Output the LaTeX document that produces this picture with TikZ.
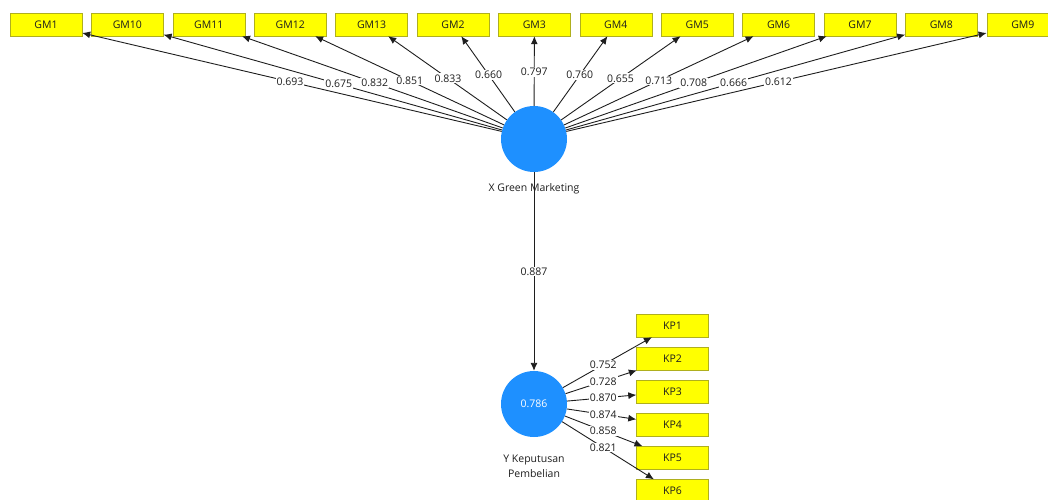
\documentclass[tikz,border=0pt]{standalone}
\usepackage{fontspec}
\setmainfont{Open Sans}
\usetikzlibrary{arrows.meta}
\definecolor{boxfill}{RGB}{255,255,0}
\definecolor{boxline}{RGB}{175,175,30}
\definecolor{latent}{RGB}{30,144,255}
\definecolor{ink}{RGB}{30,30,30}
\tikzset{
  indicator/.style={draw=boxline, fill=boxfill, minimum width=72pt, minimum height=23pt,
    inner sep=0pt, font=\fontsize{10.5}{12}\selectfont, text=ink},
  construct/.style={circle, fill=latent, minimum size=66pt, inner sep=0pt},
  loading/.style={draw=ink, line width=0.9pt, -{Latex[length=8pt,width=7pt]}},
  lbl/.style={fill=white, inner sep=1pt, font=\fontsize{10.5}{12}\selectfont, text=ink},
  caption/.style={font=\fontsize{10.5}{15}\selectfont, text=ink, align=center},
}
\begin{document}
\begin{tikzpicture}[x=1pt,y=-1pt]
\useasboundingbox (0,0) rectangle (1048,499);

% latent variables
\node[construct] (X) at (534,139) {};
\node[construct, text=white, font=\fontsize{10.5}{12}\selectfont] (Y) at (534,404) {0.786};

% indicators of X
\foreach \n [count=\i from 0] in {1,10,11,12,13,2,3,4,5,6,7,8,9}
  \node[indicator] (GM\n) at ({46+81.4*\i},24.5) {GM\n};

% indicators of Y
\foreach \k in {1,...,6}
  \node[indicator] (KP\k) at (672.5,{325.5+33.1*(\k-1)}) {KP\k};

% outer loadings
\foreach \n in {1,10,11,12,13,2,3,4,5,6,7,8,9}
  \draw[loading] (X) -- (GM\n);
\foreach \k in {1,...,6}
  \draw[loading] (Y) -- (KP\k);

% path coefficient
\draw[loading] (X) -- (Y);

% captions
\node[caption] (Xcap) at (534,189) {X Green Marketing};
\node[caption] (Ycap) at (534,466) {Y Keputusan\\Pembelian};

% loading values
\foreach \n/\p/\v in {1/0.5/0.693, 10/0.48/0.675, 11/0.49/0.832, 12/0.51/0.851,
    13/0.53/0.833, 2/0.56/0.660, 3/0.585/0.797, 4/0.56/0.760, 5/0.53/0.655,
    6/0.51/0.713, 7/0.49/0.708, 8/0.49/0.666, 9/0.5/0.612}
  \path (X.center) -- (GM\n.center) node[lbl, pos=\p] {\v};
\foreach \k/\v in {1/0.752, 2/0.728, 3/0.870, 4/0.874, 5/0.858, 6/0.821}
  \path (Y.center) -- (KP\k.center) node[lbl, pos=0.5] {\v};
\path (X.center) -- (Y.center) node[lbl, pos=0.5] {0.887};
\end{tikzpicture}
\end{document}
